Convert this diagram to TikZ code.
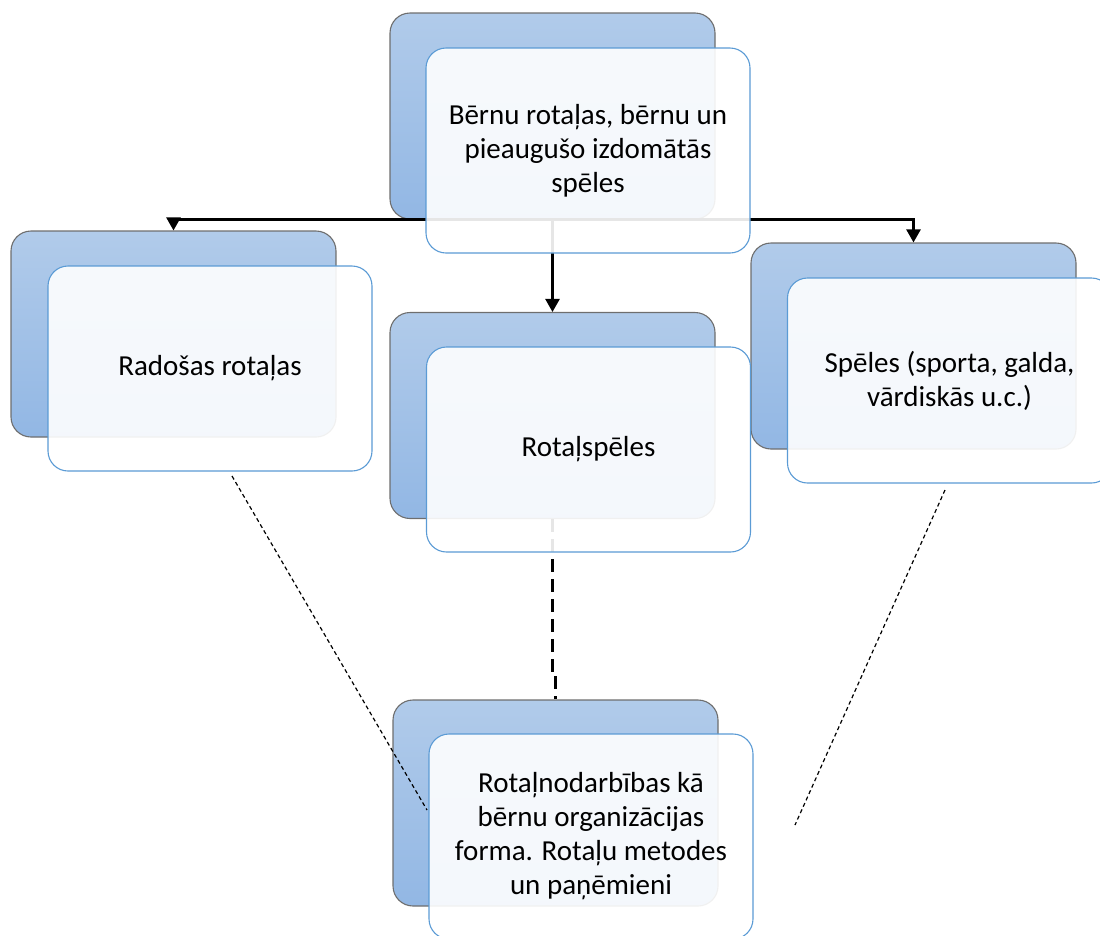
\documentclass[tikz,border=0pt]{standalone}
\usepackage{fontspec}
\setmainfont{Carlito}
\usetikzlibrary{arrows.meta,calc}
\definecolor{bluetop}{HTML}{B1CBEA}
\definecolor{bluebot}{HTML}{92B7E4}
\definecolor{backedge}{HTML}{6E6E6E}
\definecolor{frontedge}{HTML}{5B9BD5}
\begin{document}
\begin{tikzpicture}[x=1pt,y=-1pt,
  backbox/.style={draw=backedge, line width=1.1pt, rounded corners=20pt,
    top color=bluetop, bottom color=bluebot,
    minimum width=325pt, minimum height=206pt, inner sep=0pt},
  frontbox/.style={draw=frontedge, line width=1.1pt, rounded corners=20pt,
    fill=white, fill opacity=0.9, text opacity=1,
    minimum width=324pt, minimum height=205pt, inner sep=0pt,
    align=center, font=\fontsize{29}{34}\selectfont},
  conn/.style={line width=2.4pt, -{Triangle[width=14pt,length=13pt]}},
  thickdash/.style={line width=2.6pt, dash pattern=on 13pt off 7pt},
  thindash/.style={line width=1.2pt, dash pattern=on 4pt off 3pt}
]
\useasboundingbox (0,0) rectangle (1100,935);
\clip (0,0) rectangle (1100,935);
% back boxes
\node[backbox] (b0) at (552.5,116) {};
\node[backbox] (b1) at (173.5,334) {};
\node[backbox] (b2) at (552.5,415.5) {};
\node[backbox] (b3) at (913.5,346) {};
\node[backbox] (b4) at (555.5,803) {};
% connectors
\draw[conn] (b0.south) -| (b1.north);
\draw[conn] (b0.south) -| (b3.north);
\draw[conn] (b0.south) -- (b2.north);
\draw[thickdash] (b2.south) -- ++(0,152) -| (b4.north);
\coordinate (l1) at (232,476);
\coordinate (l2) at (427,810);
\coordinate (r1) at (945,490);
\coordinate (r2) at (795,825);
\draw[thindash] (l1) -- (l2);
\draw[thindash] (r1) -- (r2);
% front boxes
\node[frontbox] (f0) at (588,150.5) {Bērnu rotaļas, bērnu un\\pieaugušo izdomātās\\spēles};
\node[frontbox] (f1) at (210,368.5) {Radošas rotaļas};
\node[frontbox] (f2) at (588.5,449.5) {Rotaļspēles};
\node[frontbox] (f3) at (949.5,380.5) {Spēles (sporta, galda,\\vārdiskās u.c.)};
\node[frontbox] (f4) at (591,836.5) {Rotaļnodarbības kā\\bērnu organizācijas\\forma. Rotaļu metodes\\un paņēmieni};
\end{tikzpicture}
\end{document}
